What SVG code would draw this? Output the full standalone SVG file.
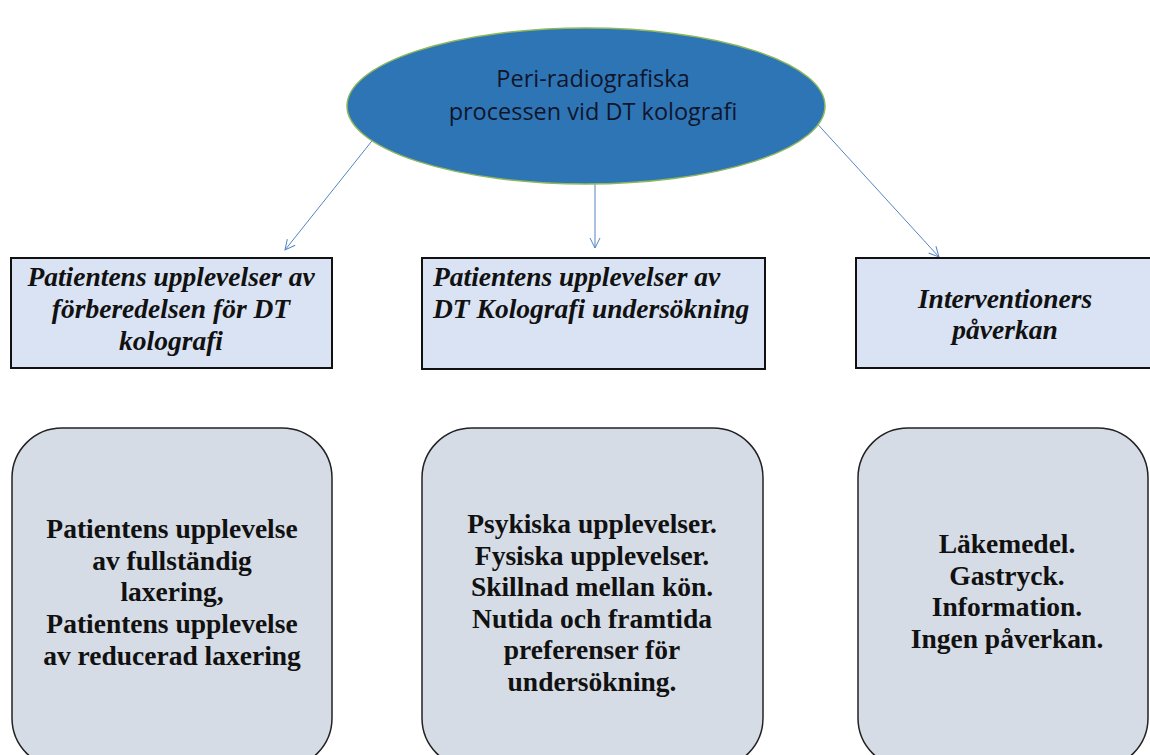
<svg xmlns="http://www.w3.org/2000/svg" width="1150" height="755" viewBox="0 0 1150 755">
<style>
.ell{fill:#2e75b6;stroke:#8fb85a;stroke-width:1.5}
.etxt{font-family:"Open Sans","Liberation Sans",sans-serif;font-size:23.5px;fill:#10152b;text-anchor:middle}
.hbox{fill:#dae3f3;stroke:#111;stroke-width:2}
.htxt{font-family:"Liberation Serif","Times New Roman",serif;font-size:27.5px;font-weight:bold;font-style:italic;fill:#111}
.rbox{fill:#d6dce5;stroke:#222;stroke-width:1.5}
.rtxt{font-family:"Liberation Serif","Times New Roman",serif;font-size:27.5px;font-weight:bold;fill:#111;text-anchor:middle}
.conn{stroke:#5585c0;stroke-width:1;fill:none;marker-end:url(#arr)}
</style>
<defs>
<marker id="arr" viewBox="0 0 12 12" refX="11" refY="6" markerWidth="12" markerHeight="12" markerUnits="userSpaceOnUse" orient="auto">
<path d="M1,1 L11,6 L1,11" fill="none" stroke="#5585c0" stroke-width="1"/>
</marker>
</defs>
<rect width="1150" height="755" fill="#fff"/>
<g id="connectors">
<line class="conn" x1="383" y1="127" x2="285" y2="250"/>
<line class="conn" x1="595" y1="170" x2="595" y2="248"/>
<line class="conn" x1="812" y1="118" x2="939" y2="257"/>
</g>
<g id="root">
<ellipse class="ell" cx="586" cy="106" rx="239" ry="78"/>
<text class="etxt" x="593" y="87">Peri-radiografiska</text>
<text class="etxt" x="593" y="120">processen vid DT kolografi</text>
</g>
<g id="head1">
<rect class="hbox" x="11" y="258" width="321" height="110"/>
<text class="htxt" text-anchor="middle" x="171" y="286">Patientens upplevelser av</text>
<text class="htxt" text-anchor="middle" x="171" y="318">förberedelsen för DT</text>
<text class="htxt" text-anchor="middle" x="171" y="350">kolografi</text>
</g>
<g id="head2">
<rect class="hbox" x="422" y="258" width="343" height="111"/>
<text class="htxt" x="433" y="286">Patientens upplevelser av</text>
<text class="htxt" x="433" y="318">DT Kolografi undersökning</text>
</g>
<g id="head3">
<rect class="hbox" x="856" y="258" width="300" height="110"/>
<text class="htxt" text-anchor="middle" x="1005" y="308">Interventioners</text>
<text class="htxt" text-anchor="middle" x="1005" y="339">påverkan</text>
</g>
<g id="detail1">
<rect class="rbox" x="12" y="428" width="320" height="340" rx="50" ry="50"/>
<text class="rtxt" x="172" y="538">Patientens upplevelse</text>
<text class="rtxt" x="172" y="570">av fullständig</text>
<text class="rtxt" x="172" y="601">laxering,</text>
<text class="rtxt" x="172" y="633">Patientens upplevelse</text>
<text class="rtxt" x="172" y="665">av reducerad laxering</text>
</g>
<g id="detail2">
<rect class="rbox" x="422" y="428" width="341" height="340" rx="50" ry="50"/>
<text class="rtxt" x="592" y="533">Psykiska upplevelser.</text>
<text class="rtxt" x="592" y="565">Fysiska upplevelser.</text>
<text class="rtxt" x="592" y="596">Skillnad mellan kön.</text>
<text class="rtxt" x="592" y="628">Nutida och framtida</text>
<text class="rtxt" x="592" y="659">preferenser för</text>
<text class="rtxt" x="592" y="691">undersökning.</text>
</g>
<g id="detail3">
<rect class="rbox" x="858" y="428" width="290" height="340" rx="50" ry="50"/>
<text class="rtxt" x="1007" y="553">Läkemedel.</text>
<text class="rtxt" x="1007" y="585">Gastryck.</text>
<text class="rtxt" x="1007" y="616">Information.</text>
<text class="rtxt" x="1007" y="648">Ingen påverkan.</text>
</g>
</svg>
